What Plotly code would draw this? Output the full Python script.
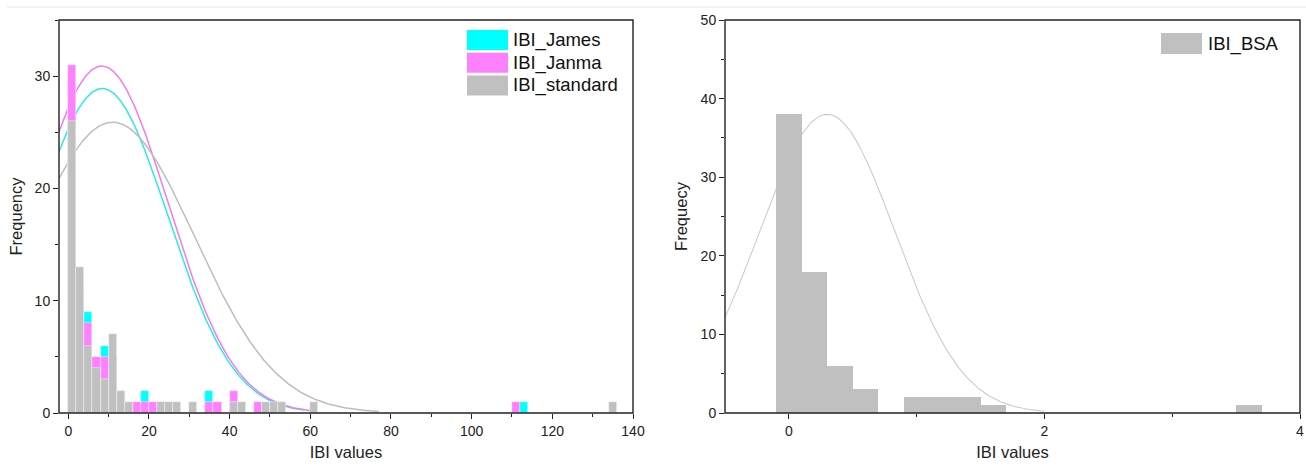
import numpy as np
import plotly.graph_objects as go

# ---------------- data ----------------
# Left panel: histogram bins (bin start, width 2) and counts
LEFT_BIN_W = 2
std_bins = [0, 2, 4, 6, 8, 10, 12, 14, 22, 24, 26, 30, 40, 42, 48, 50, 52, 60, 134]
std_counts = [26, 13, 6, 4, 3, 7, 2, 1, 1, 1, 1, 1, 1, 1, 1, 1, 1, 1, 1]
janma_bins = [0, 2, 4, 6, 8, 10, 12, 16, 18, 20, 34, 36, 40, 46, 110]
janma_counts = [31, 10, 8, 5, 5, 4, 1, 1, 1, 1, 1, 1, 2, 1, 1]
james_bins = [0, 2, 4, 6, 8, 10, 12, 18, 22, 34, 40, 112]
james_counts = [29, 11, 9, 4, 6, 5, 2, 2, 1, 2, 1, 1]

# normal-fit curves: (peak height, mean, sd, x start, x end)
james_fit = (28.9, 8.4, 16.3, -2.5, 58.5)
janma_fit = (30.9, 8.3, 16.4, -2.5, 60.5)
std_fit = (25.9, 11.0, 20.3, -2.5, 77.0)

# Right panel: histogram (bin start, width 0.2)
RIGHT_BIN_W = 0.2
bsa_bins = [-0.1, 0.1, 0.3, 0.5, 0.9, 1.1, 1.3, 1.5, 3.5]
bsa_counts = [38, 18, 6, 3, 2, 2, 2, 1, 1]
bsa_fit = (38.0, 0.30, 0.53, -0.5, 2.0)

left_xticks = [0, 20, 40, 60, 80, 100, 120, 140]
left_yticks = [0, 10, 20, 30]
right_xticks = [0, 2, 4]
right_yticks = [0, 10, 20, 30, 40, 50]

C_JAMES = "#00FFFF"
C_JANMA = "#FF80FF"
C_STD = "#C0C0C0"
AX = "#222222"

FONT = "Arial, Liberation Sans, sans-serif"
W, H = 1306, 467
ML, MR, MT, MB = 59, 6, 20, 54
PW = W - ML - MR
PH = H - MT - MB


def px(xp):
    return (xp - ML) / PW


def py(yp):
    return (H - MB - yp) / PH


def curve(params, n=300):
    a, mu, sd, x0, x1 = params
    xs = np.linspace(x0, x1, n)
    ys = a * np.exp(-((xs - mu) ** 2) / (2 * sd ** 2))
    return xs, ys


def centers(bins, w):
    return [b + w / 2 for b in bins]


fig = go.Figure()

# fitted curves (drawn beneath bars via zorder)
for params, col in [(james_fit, "#2EE8E8"), (janma_fit, "#F07AF0"), (std_fit, "#BDBDBD")]:
    xs, ys = curve(params)
    fig.add_trace(go.Scatter(x=xs, y=ys, mode="lines", line=dict(color=col, width=1.5),
                             xaxis="x", yaxis="y", showlegend=False, hoverinfo="skip", zorder=0))
xs, ys = curve(bsa_fit)
fig.add_trace(go.Scatter(x=xs, y=ys, mode="lines", line=dict(color="#CCCCCC", width=1.1),
                         xaxis="x2", yaxis="y2", showlegend=False, hoverinfo="skip", zorder=0))

for bins, counts, col, name in [(james_bins, james_counts, C_JAMES, "IBI_James"),
                                (janma_bins, janma_counts, C_JANMA, "IBI_Janma"),
                                (std_bins, std_counts, C_STD, "IBI_standard")]:
    fig.add_trace(go.Bar(x=centers(bins, LEFT_BIN_W), y=counts, width=LEFT_BIN_W,
                         marker=dict(color=col, line=dict(color="rgba(255,255,255,0.7)", width=0.6)),
                         xaxis="x", yaxis="y", name=name, showlegend=False, zorder=1))
fig.add_trace(go.Bar(x=centers(bsa_bins, RIGHT_BIN_W), y=bsa_counts, width=RIGHT_BIN_W,
                     marker=dict(color=C_STD, line=dict(width=0)),
                     xaxis="x2", yaxis="y2", name="IBI_BSA", showlegend=False, zorder=1))

dom_left = [0, px(633)]
dom_right = [px(725), px(1300)]

axis_common = dict(showline=False, ticks="outside", ticklen=5, tickwidth=1.2, tickcolor=AX,
                   showgrid=False, zeroline=False, automargin=False,
                   tickfont=dict(family=FONT, size=14, color=AX))
title_font = dict(family=FONT, size=16.5, color=AX)

L_XR = [-2.3, 140]
L_YR = [0, 35]
R_XR = [-0.5, 4]
R_YR = [0, 50]

fig.update_layout(
    width=W, height=H, autosize=False,
    margin=dict(l=ML, r=MR, t=MT, b=MB, autoexpand=False),
    paper_bgcolor="white", plot_bgcolor="white",
    barmode="overlay", bargap=0,
    showlegend=False,
    xaxis=dict(domain=dom_left, range=L_XR, tickvals=left_xticks, anchor="y",
               minor=dict(dtick=10, ticklen=3, ticks="outside", tickcolor=AX),
               title=dict(text="IBI values", font=title_font, standoff=8), **axis_common),
    yaxis=dict(domain=[0, 1], range=L_YR, tickvals=left_yticks, anchor="x",
               minor=dict(dtick=5, ticklen=3, ticks="outside", tickcolor=AX),
               title=dict(text="Frequency", font=title_font, standoff=7), **axis_common),
    xaxis2=dict(domain=dom_right, range=R_XR, tickvals=right_xticks, anchor="y2",
                minor=dict(dtick=1, ticklen=3, ticks="outside", tickcolor=AX),
                title=dict(text="IBI values", font=title_font, standoff=8), **axis_common),
    yaxis2=dict(domain=[0, 1], range=R_YR, tickvals=right_yticks, anchor="x2",
                minor=dict(dtick=5, ticklen=3, ticks="outside", tickcolor=AX),
                title=dict(text="Frequecy", font=title_font, standoff=8), **axis_common),
)

shapes = []
annotations = []
# plot frames
for xr, yr in [("x domain", "y domain"), ("x2 domain", "y2 domain")]:
    shapes.append(dict(type="rect", xref=xr, yref=yr, x0=0, x1=1, y0=0, y1=1,
                       line=dict(color=AX, width=1.4), fillcolor="rgba(0,0,0,0)", layer="above"))

# manual legends (large swatches as in the original)
legend_left = [("IBI_James", C_JAMES), ("IBI_Janma", C_JANMA), ("IBI_standard", C_STD)]
for i, (name, col) in enumerate(legend_left):
    y0 = 30 + i * 22.7
    shapes.append(dict(type="rect", xref="paper", yref="paper",
                       x0=px(467), x1=px(508), y0=py(y0 + 20), y1=py(y0),
                       fillcolor=col, line=dict(width=0), layer="above"))
    annotations.append(dict(text=name, xref="paper", yref="paper", x=px(511), y=py(y0 + 10),
                            xanchor="left", yanchor="middle", showarrow=False,
                            font=dict(family=FONT, size=18.5, color="#111")))
shapes.append(dict(type="rect", xref="paper", yref="paper",
                   x0=px(1161), x1=px(1202), y0=py(54), y1=py(33),
                   fillcolor=C_STD, line=dict(width=0), layer="above"))
annotations.append(dict(text="IBI_BSA", xref="paper", yref="paper", x=px(1206), y=py(43.5),
                        xanchor="left", yanchor="middle", showarrow=False,
                        font=dict(family=FONT, size=18.5, color="#111")))
# faint separator line at the very top
shapes.append(dict(type="line", xref="paper", yref="paper", x0=px(7), x1=px(1306),
                   y0=py(7), y1=py(7), line=dict(color="#E6E6E6", width=1)))
fig.update_layout(shapes=shapes, annotations=annotations)

fig.write_html("out.html", config={"displayModeBar": False, "responsive": False},
               post_script=("document.body.style.margin='0';"
                            "document.body.style.overflow='hidden';"
                            "document.documentElement.style.overflow='hidden';"))
